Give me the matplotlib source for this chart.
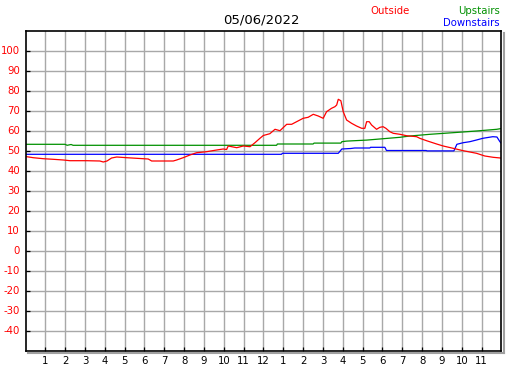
#!/usr/bin/env python3
"""Daily temperature chart: outside, upstairs and downstairs, 05/06/2022."""

import matplotlib
matplotlib.use("Agg")
import matplotlib.pyplot as plt
from matplotlib.lines import Line2D

TITLE = "05/06/2022"

# hours since midnight, temperature
outside_h = [0.06, 0.39, 0.90, 1.40, 1.91, 2.24, 3.08, 3.75, 3.92, 4.11, 4.34, 4.60,
             5.10, 5.77, 6.19, 6.36, 7.45, 7.62, 7.95, 8.29, 8.63, 9.13, 9.64, 9.97,
             10.14, 10.22, 10.65, 10.98, 11.32, 11.57, 11.82, 11.99, 12.32, 12.58,
             12.83, 13.17, 13.42, 13.67, 14.00, 14.25, 14.51, 14.76, 15.01, 15.18,
             15.43, 15.60, 15.69, 15.77, 15.90, 16.02, 16.19, 16.44, 16.69, 16.95,
             17.11, 17.20, 17.33, 17.45, 17.70, 17.87, 18.03, 18.17, 18.37, 18.54,
             18.88, 19.21, 19.72, 19.88, 20.22, 20.73, 21.06, 21.56, 22.07, 22.74,
             23.16, 23.58, 24.00]
outside_t = [46.9, 46.4, 45.9, 45.6, 45.25, 44.9, 44.9, 44.75, 44.25, 44.75, 46.25, 46.75,
             46.4, 46.0, 45.75, 44.75, 44.75, 45.25, 46.4, 47.75, 48.9, 49.4, 50.25, 50.75,
             50.5, 52.25, 51.4, 52.25, 51.9, 53.9, 56.1, 57.5, 58.4, 60.6,
             59.9, 63.1, 63.1, 64.4, 66.1, 66.6, 68.1, 67.25, 66.1, 69.4,
             71.1, 71.9, 72.75, 75.6, 74.9, 69.4, 65.25, 63.6, 62.25, 61.1,
             61.1, 64.4, 64.4, 62.75, 60.6, 61.6, 61.9, 61.1, 59.4, 58.6,
             58.1, 57.4, 56.9, 56.1, 54.9, 53.25, 52.25, 51.1, 49.9, 48.6,
             47.25, 46.6, 46.2]

upstairs_h = [0.0, 1.99, 2.10, 2.30, 2.40, 12.66, 12.70, 14.50, 14.55, 15.90, 15.95,
              16.19, 17.20, 18.88, 19.38, 20.39, 21.55, 22.74, 23.76, 24.0]
upstairs_t = [53.1, 53.1, 52.6, 53.0, 52.6, 52.6, 53.25, 53.25, 53.7, 53.7, 54.4,
              54.7, 55.2, 56.6, 57.25, 58.1, 58.9, 59.75, 60.6, 61.0]

downstairs_h = [0.0, 12.91, 12.95, 15.77, 15.95, 16.40, 16.60, 17.36, 17.40, 18.12,
                18.20, 20.20, 20.25, 21.60, 21.75, 22.07, 22.40, 22.74, 23.06, 23.56,
                23.77, 23.92, 24.0]
downstairs_t = [48.1, 48.1, 48.6, 48.6, 50.75, 51.0, 51.25, 51.25, 51.6, 51.6,
                50.0, 50.0, 49.8, 49.8, 53.1, 53.9, 54.4, 55.25, 56.1, 56.9,
                56.75, 54.4, 53.5]

hour_ticks = list(range(1, 24))
hour_labels = [str(h) for h in range(1, 13)] + [str(h) for h in range(1, 12)]
temp_ticks = list(range(-40, 101, 10))

RED = "#ff0000"
GREEN = "#009000"
BLUE = "#0000ff"
FONT = "DejaVu Sans"

W, H = 527, 370
fig = plt.figure(figsize=(W / 100, H / 100), dpi=100)
fig.patch.set_facecolor("white")

left, right, top, bottom = 25.5, 501.5, 30.5, 350.5
ax = fig.add_axes([left / W, 1 - bottom / H, (right - left) / W, (bottom - top) / H])

# drop shadow to the right and below the frame
sh = 2.0
fig.add_artist(Line2D([(right + sh) / W] * 2, [1 - (bottom + sh) / H, 1 - (top + sh) / H],
                      color="#a0a0a0", lw=1.5, transform=fig.transFigure))
fig.add_artist(Line2D([(left + sh) / W, (right + sh) / W], [1 - (bottom + sh) / H] * 2,
                      color="#a0a0a0", lw=1.5, transform=fig.transFigure))

ax.set_xlim(0, 24)
ax.set_ylim(-50, 110)

ax.set_xticks(hour_ticks)
ax.set_xticklabels(hour_labels)
ax.set_yticks(temp_ticks)
ax.set_yticklabels([str(t) for t in temp_ticks])

ax.grid(True, color="#a8a8a8", lw=1.0)
ax.set_axisbelow(True)
ax.tick_params(axis="both", direction="in", length=3, width=0.9, color="black",
               labelsize=7.3, pad=4)
ax.tick_params(axis="y", labelcolor=RED)
ax.tick_params(axis="x", labelcolor="black")
for lab in ax.get_xticklabels() + ax.get_yticklabels():
    lab.set_family(FONT)
for spine in ax.spines.values():
    spine.set_color("black")
    spine.set_linewidth(1.2)

ax.plot(upstairs_h, upstairs_t, color=GREEN, lw=0.9, clip_on=True)
ax.plot(downstairs_h, downstairs_t, color=BLUE, lw=0.9, clip_on=True)
ax.plot(outside_h, outside_t, color=RED, lw=0.9, clip_on=True)

fig.text(261 / W, 1 - 20 / H, TITLE, ha="center", va="center", fontsize=9.5,
         family=FONT, color="black")
fig.text(390 / W, 1 - 11 / H, "Outside", ha="center", va="center", fontsize=7.3,
         family=FONT, color=RED)
fig.text(500 / W, 1 - 11 / H, "Upstairs", ha="right", va="center", fontsize=7.3,
         family=FONT, color=GREEN)
fig.text(500 / W, 1 - 23 / H, "Downstairs", ha="right", va="center", fontsize=7.3,
         family=FONT, color=BLUE)

fig.savefig("out.png", dpi=100, facecolor="white")
